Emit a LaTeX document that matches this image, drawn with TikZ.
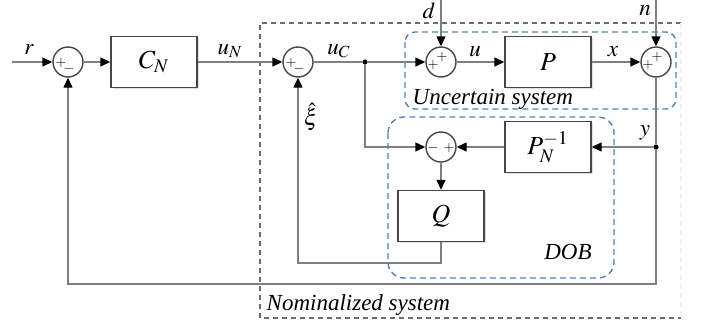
\documentclass[tikz,border=0pt]{standalone}
\usepackage{amsmath}
\usepackage{mathptmx}
\usepackage{fontspec}
\setmainfont{Liberation Serif}
\usepackage{tikz}
\usetikzlibrary{arrows.meta, calc, shadows}

\definecolor{wire}{RGB}{128,128,128}
\definecolor{boxline}{RGB}{70,70,70}
\definecolor{dobblue}{RGB}{79,129,189}

\begin{document}
\begin{tikzpicture}[x=0.5pt,y=-0.5pt,>={Triangle[length=5pt,width=4.5pt,color=black]},
                    line width=0.7pt]
\tikzstyle{block}=[draw=boxline,fill=white,minimum width=43pt,minimum height=25.5pt,inner sep=0pt,
                   drop shadow={shadow xshift=0.8pt,shadow yshift=-0.8pt,opacity=0.25},
                   font=\fontsize{13pt}{15}\selectfont]
\tikzstyle{sum}=[circle,draw=boxline,fill=white,minimum size=15pt,inner sep=0pt]
\tikzstyle{sign}=[inner sep=0pt,font=\fontsize{7pt}{7}\selectfont,text=black]
\tikzstyle{lbl}=[inner sep=0pt,text=black,font=\fontsize{11.5pt}{13}\selectfont]
\tikzstyle{grp}=[inner sep=0pt,text=black,font=\fontsize{11.5pt}{13}\selectfont\itshape]
\tikzstyle{dot}=[circle,fill=black,inner sep=0pt,minimum size=2.6pt]
\tikzstyle{wire}=[draw=wire]

        \useasboundingbox (0,0) rectangle (701,322);

        % groups
        \draw[gray!85!black,dash pattern=on 2.5pt off 2pt] (681,23) -- (260,23) -- (260,318) -- (681,318);
        \draw[gray!12,dash pattern=on 2.5pt off 2pt] (681,23) -- (681,318);
        \draw[dobblue,dash pattern=on 3pt off 2pt,rounded corners=5pt] (405,32) rectangle (676,109);
        \draw[dobblue,dash pattern=on 3pt off 2pt,rounded corners=8pt] (388,117) rectangle (614,278);

        \node[grp,anchor=west] (nom) at (266,305) {Nominalized system};
        \node[grp,anchor=west] (unc) at (412,99)  {Uncertain system};
        \node[grp]             (dob) at (568,252) {DOB};

        % blocks and junctions
        \node[sum]      (s1)   at (68,62)   {};
        \node[block]    (CN)   at (154,62)  {$C_N$};
        \node[sum]      (s2)   at (298,62)  {};
        \node[dot]      (br)   at (365,62)  {};
        \node[sum]      (s3)   at (441,62)  {};
        \node[block]    (P)    at (548,62)  {$P$};
        \node[sum]      (s4)   at (656,62)  {};
        \node[dot]      (yd)   at (656,147) {};
        \node[block]    (Pinv) at (548,147) {$P_N^{-1}$};
        \node[sum]      (s5)   at (441,147) {};
        \node[block]    (Q)    at (441,216) {$Q$};

        \coordinate (rin) at (12,62);
        \coordinate (din) at (441,0);
        \coordinate (nin) at (656,0);
        \coordinate (fb)  at (656,284);
        \coordinate (qb)  at (441,263);

        % signs
        \node[sign] at ($(s1)+(-7,1)$) {$+$};
        \node[sign] at ($(s1)+(1,7)$)  {$-$};
        \node[sign] at ($(s2)+(-7,1)$) {$+$};
        \node[sign] at ($(s2)+(1,7)$)  {$-$};
        \node[sign] at ($(s3)+(-8,3)$) {$+$};
        \node[sign] at ($(s3)+(1,-5)$) {$+$};
        \node[sign] at ($(s4)+(-8,3)$) {$+$};
        \node[sign] at ($(s4)+(1,-5)$) {$+$};
        \node[sign] at ($(s5)+(-8,1)$) {$-$};
        \node[sign] at ($(s5)+(8,1)$)  {$+$};

        % signal labels
        \node[lbl] (lr)  at (29,50)   {$r$};
        \node[lbl] (luN) at (230,51)  {$u_N$};
        \node[lbl] (luC) at (339,51)  {$u_C$};
        \node[lbl] (lu)  at (475,52)  {$u$};
        \node[lbl] (lx)  at (613,52)  {$x$};
        \node[lbl] (ld)  at (429,11)  {$d$};
        \node[lbl] (ln)  at (645,11)  {$n$};
        \node[lbl] (ly)  at (645,133) {$y$};
        \node[lbl] (lxi) at (311,117) {$\hat{\xi}$};

        % connectors
        \path[->]
        (rin)  edge[wire] (s1)
        (s1)   edge[wire] (CN)
        (CN)   edge[wire] (s2)
        (br)   edge[wire] (s3)
        (s3)   edge[wire] (P)
        (P)    edge[wire] (s4)
        (din)  edge[wire] (s3)
        (nin)  edge[wire] (s4)
        (yd)   edge[wire] (Pinv)
        (Pinv) edge[wire] (s5)
        (s5)   edge[wire] (Q)
        ; %end path

        \draw[wire] (s2) -- (br);
        \draw[wire] (s4) -- (yd);
        \draw[->,wire] (yd) -- (fb) -| (s1);
        \draw[->,wire] (br) |- (s5);
        \draw[->,wire] (Q) -- (qb) -| (s2);

\end{tikzpicture}
\end{document}
